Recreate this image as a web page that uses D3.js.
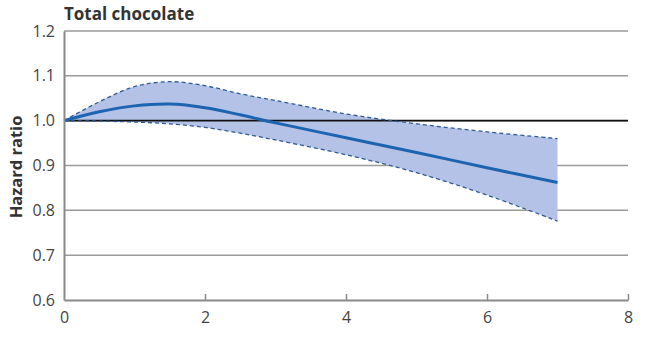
<!DOCTYPE html>
<html>
<head>
<meta charset="utf-8">
<script src="https://cdn.jsdelivr.net/npm/d3@7"></script>
<style>
body { margin: 0; background: #fff; }
text { font-family: "Open Sans", sans-serif; }
</style>
</head>
<body>
<svg id="chart" width="660" height="363"></svg>
<script>
// exposure on x, hazard ratio on y
var xs    = [0, 0.5, 1, 1.5, 2, 2.5, 3, 4, 5, 6, 7];
var hr    = [1.0, 1.02, 1.033, 1.037, 1.029, 1.013, 0.995, 0.962, 0.929, 0.895, 0.862];
var upper = [1.0, 1.042, 1.076, 1.087, 1.078, 1.06, 1.045, 1.015, 0.993, 0.975, 0.96];
var lower = [1.0, 0.999, 0.997, 0.993, 0.985, 0.972, 0.957, 0.924, 0.884, 0.834, 0.776];
var yTicks = [0.6, 0.7, 0.8, 0.9, 1.0, 1.1, 1.2];
var xTicks = [0, 2, 4, 6, 8];

var rows = xs.map(function(x, i) { return { x: x, hr: hr[i], lo: lower[i], hi: upper[i] }; });

var svg = d3.select("#chart");
var margin = { top: 31, right: 32, bottom: 63, left: 64 };
var w = 660 - margin.left - margin.right,
    h = 363 - margin.top - margin.bottom;

var x = d3.scaleLinear().domain([0, 8]).range([0, w]);
var y = d3.scaleLinear().domain([0.6, 1.2]).range([h, 0]);

var g = svg.append("g").attr("transform", "translate(" + margin.left + "," + margin.top + ")");

// gridlines
g.selectAll(".grid").data(yTicks.filter(function(d) { return d > 0.6; }))
  .enter().append("line")
    .attr("x1", 0).attr("x2", w)
    .attr("y1", function(d) { return y(d); }).attr("y2", function(d) { return y(d); })
    .style("stroke", "#9a9a9a").style("stroke-width", 1.5);

var curve = d3.curveCatmullRom.alpha(0.5);

// confidence band
g.append("path").datum(rows)
  .attr("d", d3.area().curve(curve)
    .x(function(d) { return x(d.x); })
    .y0(function(d) { return y(d.lo); })
    .y1(function(d) { return y(d.hi); }))
  .style("fill", "#b3c2e6");

// reference line at 1
g.append("line").attr("x1", 0).attr("x2", w).attr("y1", y(1)).attr("y2", y(1))
  .style("stroke", "#111").style("stroke-width", 1.6);

["lo", "hi"].forEach(function(k) {
  g.append("path").datum(rows)
    .attr("d", d3.line().curve(curve)
      .x(function(d) { return x(d.x); })
      .y(function(d) { return y(d[k]); }))
    .style("fill", "none").style("stroke", "#2f5a94")
    .style("stroke-width", 1.3).style("stroke-dasharray", "4,3");
});

g.append("path").datum(rows)
  .attr("d", d3.line().curve(curve)
    .x(function(d) { return x(d.x); })
    .y(function(d) { return y(d.hr); }))
  .style("fill", "none").style("stroke", "#1d64b0").style("stroke-width", 3);

// axes
var xAxis = g.append("g").attr("transform", "translate(0," + h + ")")
  .call(d3.axisBottom(x).tickValues(xTicks).tickSizeInner(-6).tickSizeOuter(0).tickPadding(12));
var yAxis = g.append("g")
  .call(d3.axisLeft(y).tickValues(yTicks).tickSize(0).tickPadding(9).tickFormat(d3.format(".1f")));

[xAxis, yAxis].forEach(function(a) {
  a.select(".domain").style("stroke", "#8a8a8a").style("stroke-width", 2);
  a.selectAll(".tick line").style("stroke", "#8a8a8a").style("stroke-width", 1.5);
  a.selectAll(".tick text").style("font-size", "16px").style("fill", "#444")
    .style("font-family", "'Open Sans', sans-serif");
});
xAxis.selectAll(".tick").filter(function(d) { return d === 0; }).select("line").remove();

svg.append("text").attr("x", 64).attr("y", 20)
  .style("font-size", "17px").style("font-weight", "bold").style("fill", "#333")
  .text("Total chocolate");

svg.append("text")
  .attr("transform", "translate(22,167) rotate(-90)")
  .attr("text-anchor", "middle")
  .style("font-size", "16.5px").style("font-weight", "bold").style("fill", "#333")
  .text("Hazard ratio");
</script>
</body>
</html>
